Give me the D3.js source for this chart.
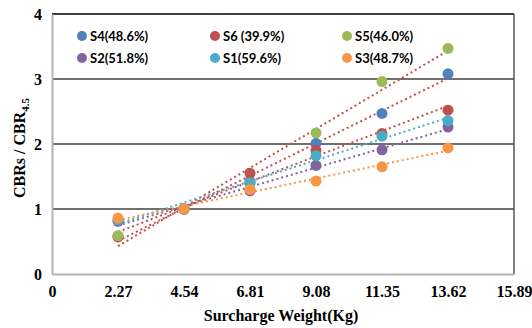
<!DOCTYPE html>
<html>
<head>
<meta charset="utf-8">
<script src="https://cdn.jsdelivr.net/npm/d3@7"></script>
<style>
  body { margin: 0; background: #fff; }
  svg { display: block; }
</style>
</head>
<body>
<div id="chart"></div>
<script>
// surcharge weights (Kg)
const weights = [2.27, 4.54, 6.81, 9.08, 11.35, 13.62];
const xTicks = [0, 2.27, 4.54, 6.81, 9.08, 11.35, 13.62, 15.89];
const yTicks = [0, 1, 2, 3, 4];

const seriesNames = ['S4(48.6%)', 'S6 (39.9%)', 'S5(46.0%)', 'S2(51.8%)', 'S1(59.6%)', 'S3(48.7%)'];
const s4 = [0.58, 1, 1.42, 2.01, 2.47, 3.08];
const s6 = [0.57, 1, 1.55, 1.90, 2.16, 2.52];
const s5 = [0.59, 1, 1.40, 2.17, 2.96, 3.47];
const s2 = [0.81, 1, 1.28, 1.67, 1.91, 2.26];
const s1 = [0.83, 1, 1.40, 1.82, 2.12, 2.36];
const s3 = [0.86, 1, 1.30, 1.43, 1.65, 1.94];

const dotColors = ['#4f81bd', '#c0504d', '#9bbb59', '#8064a2', '#4bacc6', '#f79646'];
const trendColors = ['#c0504d', '#c0504d', '#c0504d', '#8064a2', '#4bacc6', '#f79646'];

const allValues = [s4, s6, s5, s2, s1, s3];

const W = 532, H = 328;
const margin = {top: 14, right: 18, bottom: 54, left: 52};
const chtW = W - margin.left - margin.right;
const chtH = H - margin.top - margin.bottom;

const svg = d3.select('#chart').append('svg')
  .attr('width', W)
  .attr('height', H);

const g = svg.append('g')
  .attr('transform', 'translate(' + margin.left + ',' + margin.top + ')');

const x = d3.scaleLinear().domain([0, 15.89]).range([0, chtW]);
const y = d3.scaleLinear().domain([0, 4]).range([chtH, 0]);

// gridlines
g.selectAll('.grid')
  .data(yTicks.filter(d => d > 0))
  .enter().append('line')
    .attr('x1', 0).attr('x2', chtW)
    .attr('y1', d => y(d)).attr('y2', d => y(d))
    .attr('stroke', d => d === 4 ? '#000' : '#404040')
    .attr('stroke-width', 1.5);

// right border
g.append('line')
  .attr('x1', chtW).attr('x2', chtW)
  .attr('y1', 0).attr('y2', chtH)
  .attr('stroke', '#555').attr('stroke-width', 1.5);

// axes
const yAxis = d3.axisLeft(y).tickValues(yTicks).tickSize(0).tickPadding(10).tickFormat(d3.format('d'));
const xAxis = d3.axisBottom(x).tickValues(xTicks).tickSize(0).tickPadding(12)
  .tickFormat(d => d === 0 ? '0' : d3.format('.2f')(d));

g.append('g').attr('class', 'y axis').call(yAxis);
g.append('g').attr('class', 'x axis')
  .attr('transform', 'translate(0,' + chtH + ')')
  .call(xAxis);

d3.selectAll('g.axis path')
  .attr('stroke', '#b3b3b3')
  .attr('stroke-width', 2);
d3.selectAll('g.axis g.tick text')
  .attr('fill', '#000')
  .style('font-family', '"Liberation Serif", "Times New Roman", serif')
  .style('font-weight', 'bold')
  .style('font-size', '16px');

// trendlines (least squares)
function fit(vals) {
  const mx = d3.mean(weights), my = d3.mean(vals);
  let num = 0, den = 0;
  weights.forEach((w, i) => { num += (w - mx) * (vals[i] - my); den += (w - mx) * (w - mx); });
  const b = num / den;
  return [b, my - b * mx];
}

allValues.forEach((vals, k) => {
  const [b, a] = fit(vals);
  const ends = [weights[0], weights[weights.length - 1]];
  g.append('line')
    .attr('x1', x(ends[0])).attr('y1', y(a + b * ends[0]))
    .attr('x2', x(ends[1])).attr('y2', y(a + b * ends[1]))
    .attr('stroke', trendColors[k])
    .attr('stroke-width', 2)
    .attr('stroke-dasharray', '2,3');
});

// points
allValues.forEach((vals, k) => {
  g.selectAll('.dot' + k)
    .data(vals)
    .enter().append('circle')
      .attr('cx', (d, i) => x(weights[i]))
      .attr('cy', d => y(d))
      .attr('r', 5.5)
      .attr('fill', dotColors[k]);
});

// legend
const legX = [30, 163, 295];
const legY = [22, 44];
seriesNames.forEach((name, k) => {
  const lg = g.append('g')
    .attr('transform', 'translate(' + legX[k % 3] + ',' + legY[Math.floor(k / 3)] + ')');
  lg.append('circle').attr('r', 5).attr('cx', 0).attr('cy', 0).attr('fill', dotColors[k]);
  lg.append('text')
    .attr('x', 8).attr('y', 0).attr('dy', '0.35em')
    .style('font-family', 'Lato, "Open Sans", sans-serif')
    .style('font-weight', 'bold')
    .style('font-size', '13px')
    .attr('fill', '#000')
    .text(name);
});

// axis titles
svg.append('text')
  .attr('x', margin.left + chtW / 2 - 2)
  .attr('y', 321)
  .attr('text-anchor', 'middle')
  .style('font-family', '"Liberation Serif", "Times New Roman", serif')
  .style('font-weight', 'bold')
  .style('font-size', '16px')
  .text('Surcharge Weight(Kg)');

const yt = svg.append('text')
  .attr('transform', 'translate(25,' + (margin.top + chtH / 2 + 4) + ') rotate(-90)')
  .attr('text-anchor', 'middle')
  .style('font-family', '"Liberation Serif", "Times New Roman", serif')
  .style('font-weight', 'bold')
  .style('font-size', '16px');
yt.append('tspan').text('CBRs / CBR');
yt.append('tspan').attr('dy', 4).style('font-size', '11px').text('4.5');
</script>
</body>
</html>
